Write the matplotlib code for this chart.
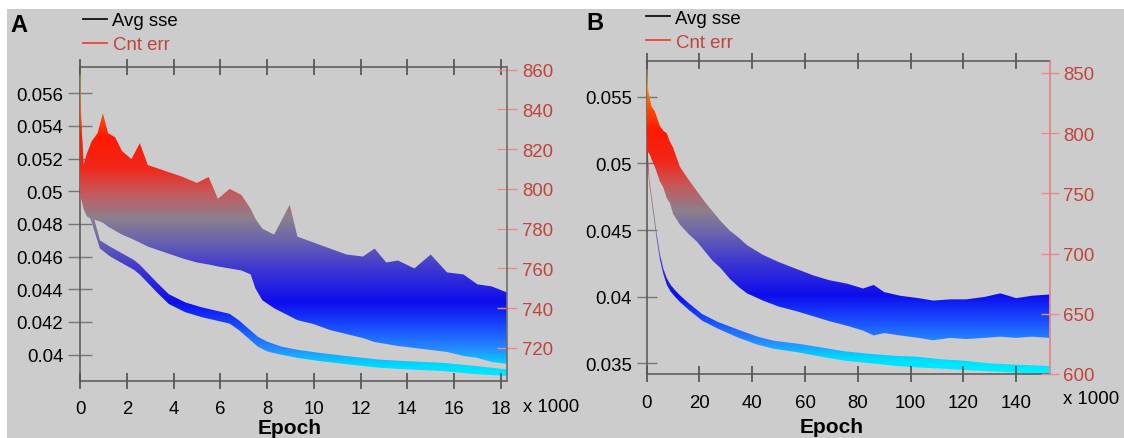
import numpy as np
import matplotlib
matplotlib.use("Agg")
import matplotlib.pyplot as plt
from matplotlib.colors import LinearSegmentedColormap
from matplotlib.lines import Line2D
from matplotlib.patches import Rectangle

plt.rcParams["font.family"] = ["Liberation Sans", "DejaVu Sans"]

# ---- panel A data (epoch in thousands) ----
a_sse_x = [0, 0.05, 0.15, 0.3, 0.5, 0.85, 1.3, 1.8, 2.3, 2.56, 3.3, 3.8, 4.5, 5.2, 5.8, 6.4,
           6.8, 7.2, 7.6, 8.0, 8.6, 9.3, 10.3, 11.5, 12.8, 14.0, 15.5, 17.0, 18.25]
a_sse_hi = [0.0575, 0.0545, 0.0515, 0.0500, 0.0489, 0.0470, 0.0466, 0.0462, 0.0458, 0.0455, 0.0444,
            0.0437, 0.0432, 0.0429, 0.0427, 0.0425, 0.0421, 0.0416, 0.0411, 0.0408, 0.0405, 0.0403,
            0.0401, 0.0399, 0.0397, 0.0396, 0.0395, 0.0393, 0.0391]
a_sse_lo = [0.0500, 0.0500, 0.0495, 0.0488, 0.0481, 0.0465, 0.0460, 0.0456, 0.0452, 0.0449, 0.0438,
            0.0431, 0.0426, 0.0423, 0.0421, 0.0419, 0.0415, 0.0410, 0.0405, 0.0402, 0.0400, 0.0398,
            0.0396, 0.0394, 0.0392, 0.0391, 0.0390, 0.0388, 0.0387]

a_cnt_x = [0, 0.05, 0.15, 0.3, 0.5, 0.75, 0.98, 1.2, 1.5, 1.8, 2.2, 2.56, 2.9, 3.4, 3.9, 4.4,
           5.0, 5.5, 5.9, 6.4, 6.9, 7.3, 7.5, 7.8, 8.3, 8.97, 9.3, 10.0, 10.7, 11.4, 12.1, 12.6,
           13.1, 13.6, 14.3, 15.0, 15.7, 16.4, 17.0, 17.6, 18.25]
a_cnt_hi = [861, 835, 812, 818, 824, 828, 838, 828, 826, 819, 815, 823, 812, 810, 808, 806,
            803, 806, 795, 800, 797, 790, 785, 780, 777, 792, 776, 773, 770, 767, 766, 770,
            763, 764, 760, 767, 758, 757, 752, 751, 748]
a_cnt_lo = [790, 795, 790, 786, 785, 784, 783, 781, 779, 777, 775, 773, 771, 769, 767, 765,
            763, 762, 761, 760, 759, 757, 750, 744, 740, 736, 734, 732, 729, 727, 725, 723,
            722, 721, 720, 719, 718, 716, 715, 713, 712]

# ---- panel B data ----
b_sse_x = [0, 0.2, 0.5, 1.0, 1.7, 2.5, 3.8, 5.0, 6.3, 7.6, 9, 10.7, 12.6, 16, 21, 27, 35,
           42, 48, 58, 66, 75, 85, 95, 102, 112, 120, 130, 140, 152.5]
b_sse_hi = [0.0577, 0.0530, 0.0505, 0.0488, 0.0478, 0.0467, 0.0447, 0.0432, 0.0421, 0.0414,
            0.0409, 0.0405, 0.0401, 0.0395, 0.0387, 0.0381, 0.0375, 0.0370, 0.0367, 0.03645,
            0.0362, 0.0359, 0.0357, 0.03555, 0.0355, 0.0353, 0.0352, 0.0350, 0.0349, 0.0348]
b_sse_lo = [0.0500, 0.0498, 0.0495, 0.0484, 0.0474, 0.0462, 0.0443, 0.0428, 0.0417, 0.0409,
            0.0404, 0.0400, 0.0396, 0.0390, 0.0382, 0.0376, 0.0369, 0.0364, 0.0361, 0.0358,
            0.0355, 0.0352, 0.0350, 0.0348, 0.0347, 0.0346, 0.0345, 0.0344, 0.0343, 0.0342]

b_cnt_x = [0, 0.3, 0.6, 1.2, 1.9, 3.1, 5.0, 6.3, 7.6, 8.8, 10.0, 12.6, 16, 19, 22, 25, 28,
           31.5, 35, 38, 44, 50, 57, 63, 69, 76, 82, 86, 90, 96, 103, 108.5, 115, 121, 128,
           134, 140, 146, 152.5]
b_cnt_hi = [860, 845, 835, 828, 822, 818, 806, 802, 800, 793, 788, 772, 761, 752, 743, 735, 727,
            719, 713, 707, 699, 693, 687, 682, 678, 675, 671, 674, 668, 665, 663, 661, 662, 662,
            664, 667, 663, 665, 666]
b_cnt_lo = [778, 785, 784, 782, 778, 772, 760, 755, 746, 742, 733, 724, 716, 710, 702, 694, 688,
            679, 672, 667, 661, 656, 652, 648, 644, 640, 636, 632, 634, 632, 630, 628, 630, 629,
            630, 631, 630, 631, 630]

# tick labels
a_xticks = [0, 2, 4, 6, 8, 10, 12, 14, 16, 18]
a_yticks = [0.04, 0.042, 0.044, 0.046, 0.048, 0.05, 0.052, 0.054, 0.056]
a_ylabels = ["0.04", "0.042", "0.044", "0.046", "0.048", "0.05", "0.052", "0.054", "0.056"]
a_rticks = [720, 740, 760, 780, 800, 820, 840, 860]
b_xticks = [0, 20, 40, 60, 80, 100, 120, 140]
b_yticks = [0.035, 0.04, 0.045, 0.05, 0.055]
b_ylabels = ["0.035", "0.04", "0.045", "0.05", "0.055"]
b_rticks = [600, 650, 700, 750, 800, 850]

W, H = 1124, 439
RED = "#c1433c"
cmap = LinearSegmentedColormap.from_list("err", [
    (0.00, (0.0, 0.95, 1.0)),
    (0.05, (0.0, 0.85, 1.0)),
    (0.10, (0.15, 0.55, 1.0)),
    (0.17, (0.1, 0.3, 1.0)),
    (0.25, (0.05, 0.05, 0.93)),
    (0.36, (0.25, 0.22, 0.82)),
    (0.45, (0.42, 0.4, 0.68)),
    (0.52, (0.55, 0.5, 0.55)),
    (0.60, (0.78, 0.35, 0.35)),
    (0.68, (0.95, 0.15, 0.1)),
    (0.78, (1.0, 0.1, 0.0)),
    (0.88, (1.0, 0.4, 0.0)),
    (1.00, (1.0, 0.9, 0.1)),
])


def band(ax, x, lo, hi):
    poly = ax.fill_between(x, lo, hi, facecolor="none", edgecolor="none")
    x0, x1 = ax.get_xlim()
    y0, y1 = ax.get_ylim()
    grad = np.linspace(0, 1, 256).reshape(-1, 1)
    im = ax.imshow(grad, extent=[x0, x1, y0, y1], origin="lower", aspect="auto",
                   cmap=cmap, interpolation="bilinear")
    im.set_clip_path(poly.get_paths()[0], transform=ax.transData)
    ax.set_xlim(x0, x1)
    ax.set_ylim(y0, y1)


def rect(l, r, t, b):
    return [l / W, 1 - b / H, (r - l) / W, (b - t) / H]


fig = plt.figure(figsize=(W / 100, H / 100), dpi=100)
fig.patch.set_facecolor("white")
fig.patches.append(Rectangle((7 / W, 0), 1 - 7 / W, 1 - 10 / H, transform=fig.transFigure,
                             facecolor="#cccccc", edgecolor="none", zorder=-10))


def panel(box, xlim, ylim, rlim, sse, cnt, xt, yt, ylab, rt, lens, pads, rspine):
    ax = fig.add_axes(box)
    ax.set_facecolor("none")
    ax.set_xlim(*xlim)
    ax.set_ylim(*ylim)
    ax2 = ax.twinx()
    ax2.set_ylim(*rlim)
    band(ax2, *cnt)
    band(ax, *sse)
    ax.set_xticks(xt)
    ax.set_xticklabels([str(v) for v in xt])
    ax.set_yticks(yt)
    ax.set_yticklabels(ylab)
    ax2.set_yticks(rt)
    ax2.set_yticklabels([str(v) for v in rt])
    lx, ly, lr = lens
    px, py, pr = pads
    ax.tick_params(axis="x", which="both", direction="inout", length=lx, width=1.1, color="#444444",
                   labelsize=13.4, pad=px, top=True)
    ax.tick_params(axis="y", direction="inout", length=ly, width=1, color="#777777",
                   labelsize=13.4, pad=py)
    ax2.tick_params(axis="y", direction="inout", length=lr, width=1, color="#f08a8a",
                    labelsize=13.4, labelcolor=RED, pad=pr)
    for s in ["left", "bottom", "top"]:
        ax.spines[s].set_color("#555555")
        ax.spines[s].set_linewidth(1.1)
    for s in ["left", "bottom", "top", "right"]:
        ax2.spines[s].set_visible(s == "right")
    ax.spines["right"].set_visible(False)
    ax2.spines["right"].set_color(rspine)
    ax2.spines["right"].set_linewidth(1.1)
    return ax, ax2


panel(rect(80, 506.7, 68, 382), (0, 18.25), (0.03839, 0.0576), (703.4, 861.3),
      (a_sse_x, a_sse_lo, a_sse_hi), (a_cnt_x, a_cnt_lo, a_cnt_hi),
      a_xticks, a_yticks, a_ylabels, a_rticks, (11, 17, 15), (8.5, 3.6, 3.5), "#666666")
panel(rect(646.7, 1050, 61.7, 375), (0, 152.8), (0.0342, 0.0577), (600, 860.2),
      (b_sse_x, b_sse_lo, b_sse_hi), (b_cnt_x, b_cnt_lo, b_cnt_hi),
      b_xticks, b_yticks, b_ylabels, b_rticks, (11, 14.4, 13), (9, 3.4, 2.9), "#e87a7a")


def ftext(px, py, s, **kw):
    fig.text(px / W, 1 - py / H, s, **kw)


def fline(x0, x1, py, color):
    fig.add_artist(Line2D([x0 / W, x1 / W], [1 - py / H, 1 - py / H], color=color, lw=1.3,
                          transform=fig.transFigure))


# panel letters, legends, axis labels
ftext(10.5, 25, "A", fontsize=17, fontweight="bold", va="center", ha="left")
ftext(586, 24, "B", fontsize=17, fontweight="bold", va="center", ha="left")
for lx, ly in [(83, 20), (646, 17)]:
    fline(lx, lx + 24, ly, "#111111")
    ftext(lx + 29, ly + 2, "Avg sse", fontsize=13.4, va="center", ha="left")
    fline(lx, lx + 24, ly + 24, "#ee4433")
    ftext(lx + 30, ly + 26, "Cnt err", fontsize=13.4, va="center", ha="left", color=RED)
ftext(523, 408, "x 1000", fontsize=13.4, va="center", ha="left")
ftext(1063, 400, "x 1000", fontsize=13.4, va="center", ha="left")
ftext(290, 429, "Epoch", fontsize=15, fontweight="bold", va="center", ha="center")
ftext(832, 428, "Epoch", fontsize=15, fontweight="bold", va="center", ha="center")

fig.savefig("out.png", dpi=100)
